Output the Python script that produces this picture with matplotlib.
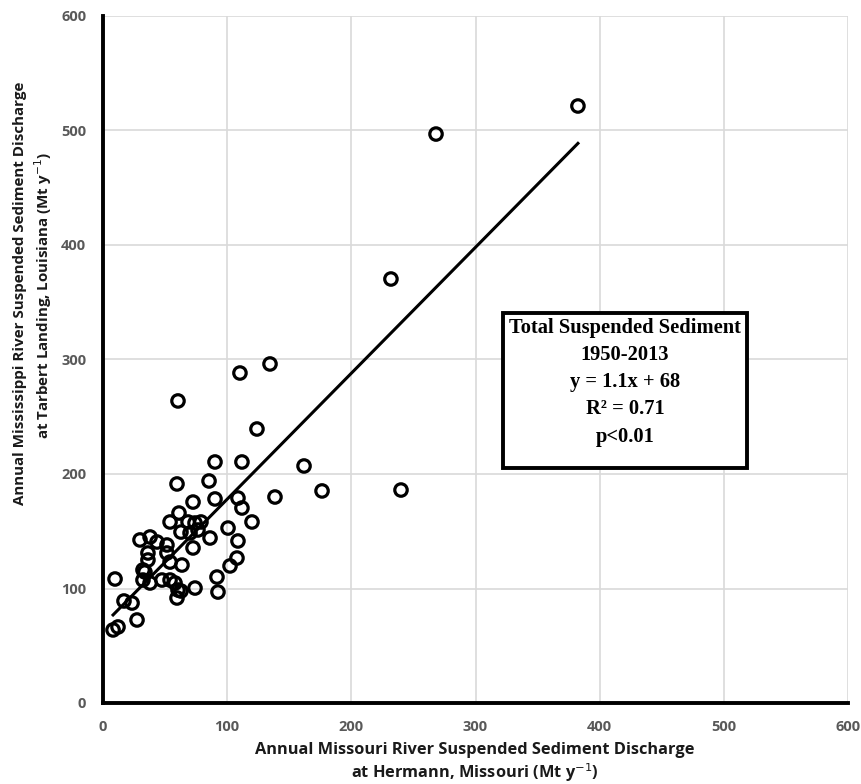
import numpy as np
import matplotlib
matplotlib.use("Agg")
import matplotlib.pyplot as plt

# Missouri (x) vs Mississippi (y) annual suspended sediment, Mt/yr
missouri = [382.5, 268.2, 231.9, 134.5, 110.3, 60.4, 124.0, 161.9, 90.2, 111.9,
            59.6, 85.4, 176.4, 240.0, 72.5, 90.2, 108.7, 111.9, 138.5, 120.0,
            61.2, 54.0, 62.8, 68.5, 74.1, 78.9, 76.5, 70.1, 100.7, 86.2,
            72.5, 108.7, 29.8, 37.9, 43.5, 51.5, 36.2, 36.2, 51.5, 54.0,
            63.6, 32.2, 33.8, 32.2, 37.9, 47.5, 54.0, 58.0, 60.4, 62.8,
            59.6, 74.1, 91.8, 92.6, 102.3, 107.9, 9.7, 16.9, 23.4, 27.4,
            8.1, 12.1]
mississippi = [521.4, 496.9, 370.3, 296.1, 288.2, 263.8, 239.3, 207.0, 210.5, 210.5,
               191.3, 193.9, 185.2, 186.0, 175.5, 178.2, 179.0, 170.3, 179.9, 158.1,
               165.9, 158.1, 149.3, 158.1, 157.2, 158.1, 151.1, 148.5, 152.8, 144.1,
               135.4, 141.5, 142.4, 145.0, 140.6, 138.0, 131.0, 124.9, 131.0, 123.1,
               120.5, 116.2, 114.4, 107.4, 104.8, 107.4, 107.4, 104.8, 98.7, 97.8,
               91.7, 100.4, 110.0, 96.9, 119.7, 126.6, 108.3, 89.1, 87.3, 72.5,
               63.8, 66.4]

slope = 1.1
intercept = 68
ticks = [0, 100, 200, 300, 400, 500, 600]
box_lines = ["Total Suspended Sediment", "1950-2013", "y = 1.1x + 68",
             "R\u00b2 = 0.71", "p<0.01"]

fig = plt.figure(figsize=(8.61, 7.84), dpi=100)
ax = fig.add_axes([103/861, 1-703/784, 745/861, 687/784])

ax.scatter(missouri, mississippi, s=80, facecolors="none", edgecolors="black",
           linewidths=2.3, zorder=3)
xf = np.array([min(missouri), max(missouri)])
ax.plot(xf, slope*xf + intercept, color="black", lw=2.2, zorder=2)

ax.set_xlim(0, 600)
ax.set_ylim(0, 600)
ax.set_xticks(ticks)
ax.set_yticks(ticks)
ax.grid(True, color="#d9d9d9", lw=1.2, zorder=0)
ax.set_axisbelow(True)
for s in ["top", "right"]:
    ax.spines[s].set_visible(False)
for s in ["left", "bottom"]:
    ax.spines[s].set_linewidth(2.8)
ax.tick_params(length=0, pad=12, labelsize=10.5, labelcolor="#595959")
for lab in ax.get_xticklabels() + ax.get_yticklabels():
    lab.set_fontweight("bold")
    lab.set_family(["Open Sans", "DejaVu Sans"])

lab_font = dict(family=["Open Sans", "DejaVu Sans"], fontweight="bold", color="#1a1a1a")
fig.text(475/861, 1-750/784, "Annual Missouri River Suspended Sediment Discharge",
         ha="center", va="center", fontsize=11.8, **lab_font)
fig.text(475/861, 1-773/784, "at Hermann, Missouri (Mt y$^{-1}$)",
         ha="center", va="center", fontsize=11.8, **lab_font)
fig.text(20/861, 1-293/784, "Annual Mississippi River Suspended Sediment Discharge",
         ha="center", va="center", rotation=90, fontsize=10.9, **lab_font)
fig.text(43/861, 1-296/784, "at Tarbert Landing, Louisiana (Mt y$^{-1}$)",
         ha="center", va="center", rotation=90, fontsize=10.9, **lab_font)

# equation box
box = plt.Rectangle((503/861, 1-468/784), 244/861, 155/784, transform=fig.transFigure,
                    fill=True, facecolor="white", edgecolor="black", lw=2.8, zorder=5)
fig.patches.append(box)
ys = [328, 355, 382, 409, 437]
for t, yy in zip(box_lines, ys):
    fig.text(625/861, 1-yy/784, t, ha="center", va="center", fontsize=14.8,
             fontweight="bold", family="Liberation Serif", zorder=6)

fig.savefig("out.png", dpi=100)
